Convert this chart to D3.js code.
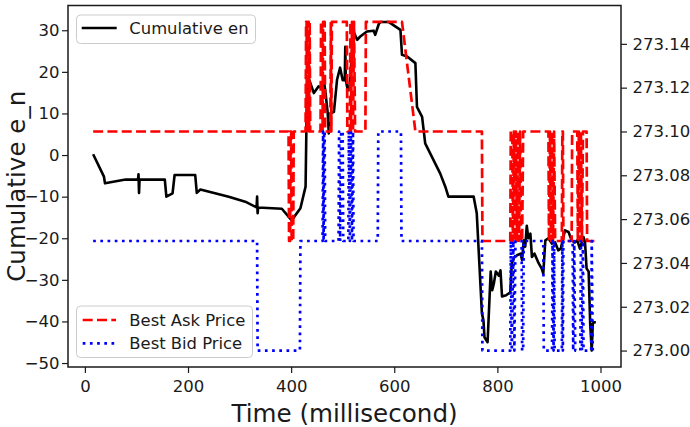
<!DOCTYPE html>
<html>
<head>
<meta charset="utf-8">
<script src="https://cdn.jsdelivr.net/npm/d3@7"></script>
<style>
body { margin: 0; background: #fff; }
text { font-family: "DejaVu Sans", sans-serif; fill: #1a1a1a; }
</style>
</head>
<body>
<script>
// cumulative e_n (left axis)
var enTime = [16, 37, 39, 79, 103, 104, 105, 106, 155, 158, 170, 174, 214, 217, 224, 279, 311, 333, 334, 335, 336,
  382, 401, 418, 428, 431, 434, 444, 453, 460, 463, 466, 471, 473, 476, 483, 489, 495, 500, 504, 505, 506, 510, 513,
  521, 528, 534, 547, 560, 563, 570, 573, 589, 612, 615, 625, 641, 644, 654, 660, 689, 699, 705, 754, 760, 770, 773,
  775, 781, 787, 790, 793, 797, 803, 806, 809, 817, 825, 828, 833, 838, 845, 848, 851, 854, 857, 860, 864, 867, 872,
  880, 886, 889, 893, 899, 906, 912, 918, 923, 931, 938, 944, 950, 955, 960, 967, 970, 973, 977, 980, 983, 985, 987, 991];
var enValue = [0.2, -5.2, -6.8, -5.9, -5.9, -4.6, -9.1, -5.9, -5.9, -10, -9.2, -4.8, -4.8, -9.1, -8.3, -10, -11.2, -12.6, -10, -14, -12.6,
  -12.9, -15.7, -12.8, -7.6, 18.5, 18.5, 14.9, 16.5, 16.1, 18.1, 15.7, 10, 5.2, 10, 10.4, 18.1, 21, 18, 18, 26, 18, 15.5, 16,
  29.7, 27.7, 28.5, 29.7, 29.9, 28.9, 31.5, 32, 32, 30.1, 24.1, 23.7, 22.1, 11.6, 9.2, 2.8, -4.4, -7.6, -10, -10, -14, -38, -39.8,
  -43.8, -45, -28, -32.5, -31, -28, -29, -27.7, -34, -33.7, -33, -26, -24.5, -24.1, -23.7, -25.3, -20.5, -22, -17, -20, -18.9, -24.5, -23.7,
  -26, -27.3, -28.5, -20.5, -20, -21.3, -21, -22.9, -22.5, -18.1, -18.5, -20.5, -21, -20.5, -22.5, -19.7, -21, -27.3, -28, -40.6, -47, -40.6, -40.2, -40.2];

// best ask price (right axis)
var askTime = [16, 395, 396, 398, 399, 400, 401, 404, 405, 428, 429, 430, 431, 432, 433, 434, 435, 436, 437,
  457, 458, 460, 461, 462, 465, 466, 476, 477, 478, 479, 508, 509, 514, 515, 516, 518, 520, 522, 524, 544, 545,
  615, 641, 770, 771, 825, 826, 829, 830, 832, 834, 836, 838, 840, 842, 844, 846, 848, 850, 899, 900, 902, 904,
  906, 908, 910, 912, 925, 926, 927, 928, 944, 945, 955, 956, 958, 960, 962, 964, 966, 973, 974, 991];
var askPrice = [273.10, 273.10, 273.05, 273.05, 273.10, 273.10, 273.05, 273.05, 273.10, 273.10, 273.15, 273.15, 273.10, 273.10, 273.15, 273.15, 273.10, 273.15, 273.10,
  273.10, 273.15, 273.15, 273.10, 273.15, 273.15, 273.10, 273.10, 273.15, 273.10, 273.15, 273.15, 273.10, 273.10, 273.15, 273.10, 273.15, 273.10, 273.15, 273.10, 273.10, 273.15,
  273.15, 273.10, 273.10, 273.05, 273.05, 273.10, 273.10, 273.05, 273.10, 273.05, 273.10, 273.05, 273.10, 273.05, 273.10, 273.05, 273.05, 273.10, 273.10, 273.05, 273.10, 273.05,
  273.10, 273.05, 273.10, 273.05, 273.05, 273.10, 273.10, 273.05, 273.05, 273.10, 273.10, 273.05, 273.10, 273.05, 273.10, 273.05, 273.10, 273.10, 273.05, 273.05];

// best bid price (right axis)
var bidTime = [16, 334, 335, 417, 418, 461, 462, 463, 464, 465, 466, 492, 493, 495, 497, 500, 501, 511, 512, 514, 516, 518, 520, 521,
  568, 569, 613, 614, 770, 771, 825, 826, 828, 831, 833, 835, 847, 848, 850, 851, 889, 890, 906, 907, 909, 910, 911, 925, 926, 927, 928,
  946, 947, 949, 951, 961, 962, 964, 966, 967, 982, 983, 985];
var bidPrice = [273.05, 273.05, 273.00, 273.00, 273.05, 273.05, 273.10, 273.05, 273.10, 273.10, 273.05, 273.05, 273.10, 273.05, 273.10, 273.10, 273.05, 273.05, 273.10, 273.05, 273.10, 273.05, 273.10, 273.05,
  273.05, 273.10, 273.10, 273.05, 273.05, 273.00, 273.00, 273.05, 273.00, 273.05, 273.00, 273.05, 273.05, 273.00, 273.00, 273.05, 273.05, 273.00, 273.00, 273.05, 273.00, 273.05, 273.00, 273.00, 273.05, 273.00, 273.05,
  273.05, 273.00, 273.05, 273.00, 273.00, 273.05, 273.00, 273.05, 273.00, 273.00, 273.05, 273.00];

var xTicks = [0, 200, 400, 600, 800, 1000];
var leftTicks = [-50, -40, -30, -20, -10, 0, 10, 20, 30];
var rightTicks = [273.00, 273.02, 273.04, 273.06, 273.08, 273.10, 273.12, 273.14];

var svgWidth = 690;
var svgHeight = 427;
var plot = { left: 68, right: 621, top: 5.5, bottom: 367 };

var svg = d3.select("body")
  .append("svg")
  .attr("width", svgWidth)
  .attr("height", svgHeight);

svg.append("rect").attr("width", svgWidth).attr("height", svgHeight).attr("fill", "#fff");

// matplotlib style 5% margins
function padded(ext) {
  var m = (ext[1] - ext[0]) * 0.05;
  return [ext[0] - m, ext[1] + m];
}

var allTimes = enTime.concat(askTime, bidTime);
var x = d3.scaleLinear().domain(padded(d3.extent(allTimes))).range([plot.left, plot.right]);
var yLeft = d3.scaleLinear().domain(padded(d3.extent(enValue))).range([plot.bottom, plot.top]);
var yRight = d3.scaleLinear().domain(padded(d3.extent(askPrice.concat(bidPrice)))).range([plot.bottom, plot.top]);

// left axis: cumulative e_n
var enLine = d3.line()
  .x(function(d, i) { return x(enTime[i]); })
  .y(function(d) { return yLeft(d); });

svg.append("path")
  .datum(enValue)
  .attr("d", enLine)
  .attr("fill", "none")
  .attr("stroke", "#000")
  .attr("stroke-width", 2.6)
  .attr("stroke-linejoin", "round");

function styleAxis(g) {
  g.select(".domain").remove();
  g.selectAll(".tick line").attr("stroke", "#1a1a1a").attr("stroke-width", 1.2);
  g.selectAll(".tick text").attr("font-size", "16.5px").attr("fill", "#1a1a1a")
    .attr("font-family", "DejaVu Sans, sans-serif");
}

svg.append("g")
  .attr("transform", "translate(0," + plot.bottom + ")")
  .call(d3.axisBottom(x).tickValues(xTicks).tickSize(6).tickPadding(7).tickFormat(d3.format("d")))
  .call(styleAxis);

svg.append("g")
  .attr("transform", "translate(" + plot.left + ",0)")
  .call(d3.axisLeft(yLeft).tickValues(leftTicks).tickSize(6).tickPadding(2.5).tickFormat(d3.format("d")))
  .call(styleAxis);

// legend for the e_n line
var leg1 = svg.append("g");
leg1.append("rect")
  .attr("x", 76.5).attr("y", 15).attr("width", 179).attr("height", 28.5).attr("rx", 4)
  .attr("fill", "#fff").attr("fill-opacity", 0.8)
  .attr("stroke", "#cccccc").attr("stroke-width", 1);
leg1.append("line")
  .attr("x1", 81.7).attr("x2", 116.7).attr("y1", 28).attr("y2", 28)
  .attr("stroke", "#000").attr("stroke-width", 2.6);
leg1.append("text")
  .attr("x", 129.3).attr("y", 28).attr("dy", "0.36em")
  .attr("font-size", "16.4px")
  .text("Cumulative en");

// right axis: prices
var askLine = d3.line()
  .x(function(d, i) { return x(askTime[i]); })
  .y(function(d) { return yRight(d); });
var bidLine = d3.line()
  .x(function(d, i) { return x(bidTime[i]); })
  .y(function(d) { return yRight(d); });

svg.append("path")
  .datum(askPrice)
  .attr("d", askLine)
  .attr("fill", "none")
  .attr("stroke", "#ff0000")
  .attr("stroke-width", 2.7)
  .attr("stroke-dasharray", "10,4.3")
  .attr("stroke-linejoin", "round");

svg.append("path")
  .datum(bidPrice)
  .attr("d", bidLine)
  .attr("fill", "none")
  .attr("stroke", "#0000ff")
  .attr("stroke-width", 2.7)
  .attr("stroke-dasharray", "2.7,4.5")
  .attr("stroke-linejoin", "round");

svg.append("g")
  .attr("transform", "translate(" + plot.right + ",0)")
  .call(d3.axisRight(yRight).tickValues(rightTicks).tickSize(6).tickPadding(5.5).tickFormat(d3.format(".2f")))
  .call(styleAxis);

// frame
svg.append("rect")
  .attr("x", plot.left).attr("y", plot.top)
  .attr("width", plot.right - plot.left).attr("height", plot.bottom - plot.top)
  .attr("fill", "none").attr("stroke", "#1a1a1a").attr("stroke-width", 1.5);

// legend for prices
var leg2 = svg.append("g");
leg2.append("rect")
  .attr("x", 76.5).attr("y", 306).attr("width", 176).attr("height", 51.5).attr("rx", 4)
  .attr("fill", "#fff").attr("fill-opacity", 0.8)
  .attr("stroke", "#cccccc").attr("stroke-width", 1);
leg2.append("line")
  .attr("x1", 82.7).attr("x2", 116).attr("y1", 320).attr("y2", 320)
  .attr("stroke", "#ff0000").attr("stroke-width", 2.7).attr("stroke-dasharray", "10,4.3");
leg2.append("text")
  .attr("x", 129.3).attr("y", 320).attr("dy", "0.36em")
  .attr("font-size", "16.4px")
  .text("Best Ask Price");
leg2.append("line")
  .attr("x1", 82.7).attr("x2", 116).attr("y1", 343.3).attr("y2", 343.3)
  .attr("stroke", "#0000ff").attr("stroke-width", 2.7).attr("stroke-dasharray", "2.7,4.5");
leg2.append("text")
  .attr("x", 129.3).attr("y", 343.3).attr("dy", "0.36em")
  .attr("font-size", "16.4px")
  .text("Best Bid Price");

// axis titles
svg.append("text")
  .attr("x", (plot.left + plot.right) / 2)
  .attr("y", 421.5)
  .style("text-anchor", "middle")
  .attr("font-size", "24.6px")
  .text("Time (millisecond)");

svg.append("text")
  .attr("transform", "rotate(-90)")
  .attr("x", -(plot.top + plot.bottom) / 2)
  .attr("y", 25)
  .style("text-anchor", "middle")
  .attr("font-size", "24.6px")
  .text("Cumulative e_n");
</script>
</body>
</html>
